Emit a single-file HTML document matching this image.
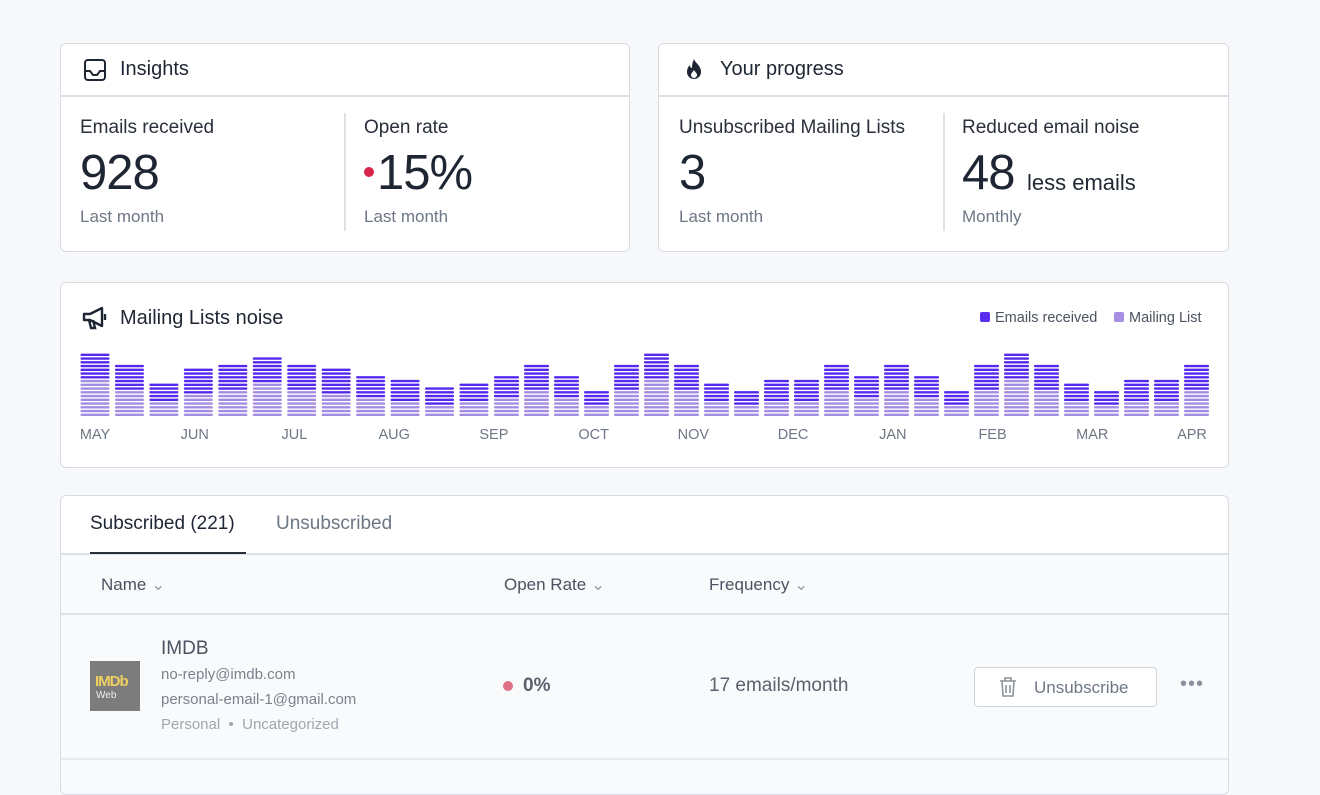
<!DOCTYPE html>
<html><head><meta charset="utf-8">
<style>
*{box-sizing:border-box;margin:0;padding:0}
body{width:1320px;height:764px;background:#f7f8fa;font-family:"Liberation Sans",sans-serif;color:#1f2633;position:relative;overflow:hidden}
.card{position:absolute;background:#fff;border:1.5px solid #d9dde3;border-radius:6px}
.abs{position:absolute;white-space:nowrap}
.lbl{font-size:19px;color:#2a303b}
.big{font-size:49px;color:#1f2633;letter-spacing:-1px}
.sub{font-size:17px;color:#6e7785}
.hline{position:absolute;height:1.5px;background:#dde1e6}
.vline{position:absolute;width:1.5px;background:#dde1e6}
</style></head><body>

<div class="card" style="left:60px;top:43px;width:570px;height:209px"></div>
<div class="hline" style="left:61px;top:95px;width:568px"></div>
<svg class="abs" style="left:83px;top:58px" width="24" height="24" viewBox="0 0 24 24"><rect x="2" y="2" width="20" height="20" rx="3" fill="none" stroke="#1f2633" stroke-width="2"/><path d="M2 13h5l3 4h4l3-4h5" fill="none" stroke="#1f2633" stroke-width="2"/></svg>
<div class="abs" style="left:120px;top:58px;font-size:20px;color:#1f2633">Insights</div>
<div class="abs lbl" style="left:80px;top:117px">Emails received</div>
<div class="abs big" style="left:80px;top:145px">928</div>
<div class="abs sub" style="left:80px;top:207px">Last month</div>
<div class="vline" style="left:344px;top:113px;height:118px"></div>
<div class="abs lbl" style="left:364px;top:117px">Open rate</div>
<div class="abs" style="left:364px;top:167px;width:10px;height:10px;border-radius:50%;background:#d9254a"></div>
<div class="abs big" style="left:377px;top:145px">15%</div>
<div class="abs sub" style="left:364px;top:207px">Last month</div>

<div class="card" style="left:658px;top:43px;width:571px;height:209px"></div>
<div class="hline" style="left:659px;top:95px;width:569px"></div>
<svg class="abs" style="left:682px;top:57px" width="24" height="24" viewBox="0 0 24 24"><path d="M12 2c1 4 7 6 7 13a7 7 0 0 1-14 0c0-4 2-6 3-7 0 2 1 3 2 3 0-4 1-7 2-9z" fill="#1f2633"/><path d="M12 13c1 2 3 3 3 5a3 3 0 0 1-6 0c0-2 2-3 3-5z" fill="#fff"/></svg>
<div class="abs" style="left:720px;top:58px;font-size:20px;color:#1f2633">Your progress</div>
<div class="abs lbl" style="left:679px;top:117px">Unsubscribed Mailing Lists</div>
<div class="abs big" style="left:679px;top:145px">3</div>
<div class="abs sub" style="left:679px;top:207px">Last month</div>
<div class="vline" style="left:943px;top:113px;height:118px"></div>
<div class="abs lbl" style="left:962px;top:117px">Reduced email noise</div>
<div class="abs big" style="left:962px;top:145px">48</div>
<div class="abs" style="left:1027px;top:170px;font-size:22px;color:#1f2633">less emails</div>
<div class="abs sub" style="left:962px;top:207px">Monthly</div>

<div class="card" style="left:60px;top:282px;width:1169px;height:186px"></div>
<svg class="abs" style="left:81px;top:305px" width="28" height="26" viewBox="0 0 28 26"><path d="M3 9h6l12-6v18L9 15H3z" fill="none" stroke="#1f2633" stroke-width="2.4" stroke-linejoin="round"/><path d="M8 15l2 8h4l-2-8" fill="none" stroke="#1f2633" stroke-width="2.4"/><path d="M24 9v6" stroke="#1f2633" stroke-width="2.4"/></svg>
<div class="abs" style="left:120px;top:307px;font-size:20px;color:#1f2633">Mailing Lists noise</div>
<div class="abs" style="left:980px;top:310px;font-size:14.5px;color:#4b5260"><span style="display:inline-block;width:10px;height:10px;border-radius:2px;background:#5a2df0;margin-right:5px"></span>Emails received</div>
<div class="abs" style="left:1114px;top:310px;font-size:14.5px;color:#4b5260"><span style="display:inline-block;width:10px;height:10px;border-radius:2px;background:#a58ee3;margin-right:5px"></span>Mailing List</div>
<svg id="chart" class="abs" style="left:0;top:0" width="1320" height="450"></svg>

<div class="card" style="left:60px;top:495px;width:1169px;height:300px;background:#f9fafb"></div>
<div class="abs" style="left:61px;top:496px;width:1167px;height:58px;background:#fff;border-radius:6px 6px 0 0"></div>
<div class="abs" style="left:90px;top:513px;font-size:19px;color:#1f2633">Subscribed (221)</div>
<div class="abs" style="left:276px;top:513px;font-size:19px;color:#6e7785">Unsubscribed</div>
<div class="hline" style="left:61px;top:553px;width:1167px"></div>
<div class="abs" style="left:90px;top:552px;width:156px;height:2px;background:#2a303b"></div>
<div class="abs" style="left:101px;top:575px;font-size:17px;color:#4b5260">Name <span style="color:#9aa1ab">&#8964;</span></div>
<div class="abs" style="left:504px;top:575px;font-size:17px;color:#4b5260">Open Rate <span style="color:#9aa1ab">&#8964;</span></div>
<div class="abs" style="left:709px;top:575px;font-size:17px;color:#4b5260">Frequency <span style="color:#9aa1ab">&#8964;</span></div>
<div class="hline" style="left:61px;top:613px;width:1167px"></div>
<div class="hline" style="left:61px;top:758px;width:1167px;background:#e6e9ed"></div>
<div class="abs" style="left:90px;top:661px;width:50px;height:50px;background:#7c7c7c">
<div style="position:absolute;left:5px;top:12px;font-size:15px;font-weight:bold;color:#f0d060;letter-spacing:-1px">IMDb</div>
<div style="position:absolute;left:6px;top:29px;font-size:10px;color:#eee">Web</div></div>
<div class="abs" style="left:161px;top:638px;font-size:19px;color:#4b5260">IMDB</div>
<div class="abs" style="left:161px;top:666px;font-size:15px;color:#7a828e">no-reply@imdb.com</div>
<div class="abs" style="left:161px;top:691px;font-size:15px;color:#7a828e">personal-email-1@gmail.com</div>
<div class="abs" style="left:161px;top:716px;font-size:15px;color:#a0a6b0">Personal &nbsp;•&nbsp; Uncategorized</div>
<div class="abs" style="left:503px;top:681px;width:10px;height:10px;border-radius:50%;background:#e07088"></div>
<div class="abs" style="left:523px;top:675px;font-size:19px;font-weight:bold;color:#5a616d">0%</div>
<div class="abs" style="left:709px;top:675px;font-size:19px;color:#5a616d">17 emails/month</div>
<div class="abs" style="left:974px;top:667px;width:183px;height:40px;border:1.5px solid #cfd4db;border-radius:4px;background:#fff">
<svg style="position:absolute;left:22px;top:8px" width="22" height="22" viewBox="0 0 22 22"><path d="M3 5h16M8 5V2h6v3M5 5l1 15h10l1-15M9 9v8M13 9v8" fill="none" stroke="#8a919c" stroke-width="1.6"/></svg>
<div style="position:absolute;left:59px;top:10px;font-size:17px;color:#6e7785">Unsubscribe</div></div>
<div class="abs" style="left:1180px;top:673px;font-size:20px;color:#8a919c;letter-spacing:1px">&#8226;&#8226;&#8226;</div>

<script>
const months = ["MAY","JUN","JUL","AUG","SEP","OCT","NOV","DEC","JAN","FEB","MAR","APR"];
const totalSegments = [17,14,9,13,14,16,14,13,11,10,8,9,11,14,11,7,14,17,14,9,7,10,10,14,11,14,11,7,14,17,14,9,7,10,10,14];
const mailingListSegments = [10,7,4,6,7,9,7,6,5,4,3,4,5,7,5,3,7,10,7,4,3,4,4,7,5,7,5,3,7,10,7,4,3,4,4,7];
const svg = document.getElementById('chart');
const NS = 'http://www.w3.org/2000/svg';
const baseY = 416, segPitch = 3.75, segH = 2.4;
function barX(i){ return i < 12 ? 80.5 + i*34.45 : 494 + (i-12)*30; }
function barW(i){ return i < 12 ? 29 : 25; }
function segY(k){ return baseY - (k+1)*segPitch + (segPitch-segH); }
totalSegments.forEach((n,i)=>{
  const g = document.createElementNS(NS,'g');
  
  
  for(let k=0;k<n;k++){
    const r = document.createElementNS(NS,'rect');
    r.setAttribute('x', barX(i)); r.setAttribute('y', segY(k));
    r.setAttribute('width', barW(i)); r.setAttribute('height', segH); r.setAttribute('rx', 1);
    r.setAttribute('fill', k < mailingListSegments[i] ? '#a38de2' : '#5528ee');
    g.appendChild(r);
  }
  svg.appendChild(g);
});
const firstC = 95, lastC = 1192;
months.forEach((m,j)=>{
  const t = document.createElementNS(NS,'text');
  
  
  t.setAttribute('x', firstC + j*(lastC-firstC)/(months.length-1));
  t.setAttribute('y', 439);
  t.setAttribute('text-anchor','middle');
  t.setAttribute('font-size','14.5');
  t.setAttribute('fill','#6e7785');
  t.setAttribute('font-family','Liberation Sans, sans-serif');
  t.textContent = m;
  svg.appendChild(t);
});
</script>
</body></html>
